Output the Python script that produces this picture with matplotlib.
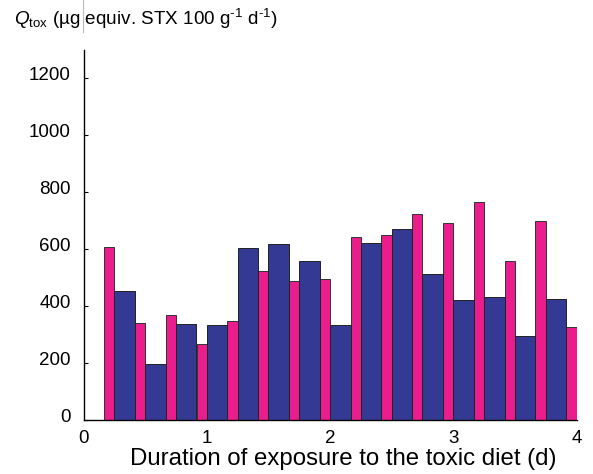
import matplotlib
matplotlib.use("Agg")
import matplotlib.pyplot as plt
import matplotlib.transforms as mtransforms
import numpy as np

plt.rcParams['font.family'] = ['Liberation Sans', 'DejaVu Sans']
plt.rcParams['mathtext.fontset'] = 'custom'
plt.rcParams['mathtext.rm'] = 'Liberation Sans'
plt.rcParams['mathtext.it'] = 'Liberation Sans:italic'

# Pink bars: 2-h intervals starting at 4 h, every 6 h
pink_start = [0.167 + 0.25 * k for k in range(16)]
pink_values = [608, 342, 371, 269, 348, 525, 490, 495, 644, 650, 723, 693, 766, 558, 700, 328]
# Blue bars: 4-h intervals starting at 6 h, every 6 h
blue_start = [0.25 + 0.25 * k for k in range(15)]
blue_values = [454, 198, 339, 333, 605, 618, 558, 333, 621, 672, 513, 422, 433, 297, 426]

pink_width = 0.0833
blue_width = 0.1667

pink_color = '#E91E8C'
blue_color = '#343A93'

fig = plt.figure(figsize=(5.93, 4.74), dpi=100)
W, H = 593, 474
ax = fig.add_axes([83.5 / W, (H - 420.3) / H, (576.5 - 83.5) / W, (420.3 - 50) / H])

ax.bar(pink_start, pink_values, width=pink_width, align='edge', color=pink_color,
       edgecolor='#333333', linewidth=0.7, zorder=2)
ax.bar(blue_start, blue_values, width=blue_width, align='edge', color=blue_color,
       edgecolor='#222222', linewidth=0.7, zorder=2)

ax.set_xlim(0, 4)
ax.set_ylim(0, 1300)
for s in ['top', 'right']:
    ax.spines[s].set_visible(False)
ax.spines['left'].set_linewidth(1.0)
ax.spines['bottom'].set_linewidth(1.0)

ax.set_yticks([0, 200, 400, 600, 800, 1000, 1200])
ax.set_xticks([0, 1, 2, 3, 4])
ax.tick_params(axis='y', direction='in', length=3, width=0.8, labelsize=13.5, pad=9)
ax.tick_params(axis='x', length=0, labelsize=13.5, pad=7)

offset = mtransforms.ScaledTranslation(0, 4.5 / 100, fig.dpi_scale_trans)
for lab in ax.get_yticklabels():
    lab.set_transform(lab.get_transform() + offset)

fig.text(130 / W, (H - 465) / H, 'Duration of exposure to the toxic diet (d)',
         fontsize=17.3, ha='left', va='baseline')

fig.text(14 / W, (H - 19) / H,
         r'$Q_{\rm tox}$ (µg equiv. STX 100 g$^{\text{-1}}$ d$^{\text{-1}}$)',
         fontsize=13.6, ha='left', va='center')

# faint line above the axis
fig.add_artist(plt.Line2D([83.3 / W, 83.3 / W], [1.0, (H - 32) / H],
                          transform=fig.transFigure, color='#bbbbbb', linewidth=0.8))

fig.savefig('out.png', dpi=100)
